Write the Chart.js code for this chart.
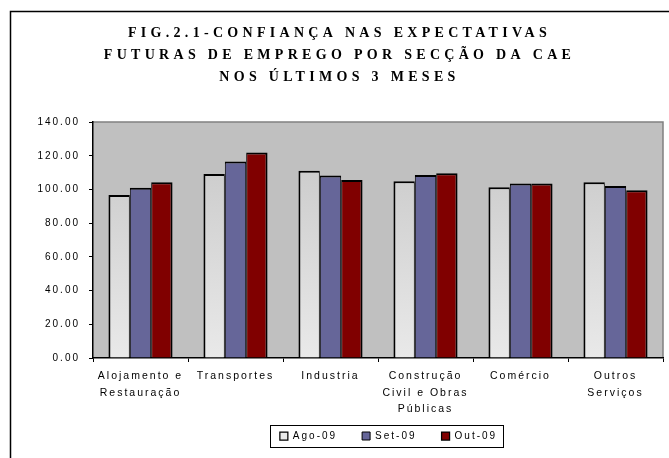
<!DOCTYPE html>
<html>
<head>
<meta charset="utf-8">
<script src="https://cdn.jsdelivr.net/npm/chart.js@4/dist/chart.umd.min.js"></script>
<style>
  html, body { margin: 0; padding: 0; background: #fff; }
  #wrap { width: 669px; height: 458px; position: relative; }
</style>
</head>
<body>
<div id="wrap"><canvas id="c" width="669" height="458"></canvas></div>
<script>
// ---- data ----
const categories = [
  ["Alojamento e", "Restauração"],
  "Transportes",
  "Industria",
  ["Construção", "Civil e Obras", "Públicas"],
  "Comércio",
  ["Outros", "Serviços"]
];
const seriesNames = ["Ago-09", "Set-09", "Out-09"];
const ago09 = [96.7, 109.2, 111.2, 104.9, 101.3, 104.3];
const set09 = [101.1, 116.6, 108.3, 108.6, 103.5, 102.1];
const out09 = [104.3, 121.9, 105.7, 109.7, 103.5, 99.5];
const yTicks = [0, 20, 40, 60, 80, 100, 120, 140];
const titleLines = [
  "FIG.2.1-CONFIANÇA NAS EXPECTATIVAS",
  "FUTURAS DE EMPREGO POR SECÇÃO DA CAE",
  "NOS ÚLTIMOS 3 MESES"
];

const SANS = "'Liberation Sans', Arial, sans-serif";
const SERIF = "'Liberation Serif', 'Times New Roman', serif";

function agoFill(ctx) {
  const chart = ctx.chart;
  const a = chart.chartArea;
  if (!a) return '#dcdcdc';
  const g = chart.ctx.createLinearGradient(0, a.top, 0, a.bottom);
  g.addColorStop(0, '#c6c6c6');
  g.addColorStop(1, '#e9e9e9');
  return g;
}

const decor = {
  id: 'decor',
  beforeLayout(chart) {
    chart.ctx.letterSpacing = '2px';
    const lg = chart.legend;
    if (lg && !lg._fitWrapped) {
      const of = lg.fit.bind(lg);
      lg.fit = function () { of(); this.height = 34; };
      lg.draw = function () { if (this.options.display) this._draw(); };
      lg._fitWrapped = true;
    }
  },
  afterLayout(chart) {
    const lg = chart.legend;
    if (lg) {
      const dx = 57, dy = -14;
      lg.left += dx; lg.right += dx;
      lg.top += dy; lg.bottom += dy;
    }
    const tb = chart.titleBlock;
    if (tb) { tb.left += 8; tb.right += 8; }
  },
  beforeDraw(chart) {
    const ctx = chart.ctx;
    ctx.letterSpacing = '2px';
    const tb = chart.titleBlock;
    if (tb && !tb._wrapped) {
      const orig = tb.draw.bind(tb);
      tb.draw = function () {
        const c = this.ctx;
        c.save();
        c.letterSpacing = '4.3px';
        orig();
        c.restore();
      };
      tb._wrapped = true;
    }
    const a = chart.chartArea;
    ctx.save();
    // outer frame
    ctx.strokeStyle = '#000';
    ctx.lineWidth = 1.5;
    ctx.beginPath();
    ctx.moveTo(10.5, 458);
    ctx.lineTo(10.5, 11.5);
    ctx.lineTo(669, 11.5);
    ctx.stroke();
    // plot background
    ctx.fillStyle = '#c0c0c0';
    ctx.fillRect(a.left, a.top, a.right - a.left, a.bottom - a.top);
    ctx.strokeStyle = '#808080';
    ctx.lineWidth = 1.5;
    ctx.beginPath();
    ctx.moveTo(a.left, a.top);
    ctx.lineTo(a.right, a.top);
    ctx.lineTo(a.right, a.bottom);
    ctx.stroke();
    ctx.restore();
  },
  afterDraw(chart) {
    const lg = chart.legend;
    if (!lg || !lg.legendHitBoxes || !lg.legendHitBoxes.length) return;
    const hb = lg.legendHitBoxes;
    let l = Infinity, r = -Infinity, t = Infinity, b = -Infinity;
    hb.forEach(h => {
      l = Math.min(l, h.left); r = Math.max(r, h.left + h.width);
      t = Math.min(t, h.top); b = Math.max(b, h.top + h.height);
    });
    const ctx = chart.ctx;
    ctx.save();
    ctx.strokeStyle = '#000';
    ctx.lineWidth = 1;
    ctx.strokeRect(Math.round(l - 10) + 0.5, Math.round(t - 6) + 0.5, Math.round(r - l + 16), Math.round(b - t + 12));
    ctx.restore();
  }
};

const chart = new Chart(document.getElementById('c'), {
  type: 'bar',
  data: {
    labels: categories,
    datasets: [
      { label: seriesNames[0], data: ago09, backgroundColor: agoFill, borderColor: '#000',
        borderWidth: { top: 2, left: 2, right: 1, bottom: 0 }, borderSkipped: false },
      { label: seriesNames[1], data: set09, backgroundColor: '#666699', borderColor: '#000',
        borderWidth: { top: 2, left: 1, right: 1, bottom: 0 }, borderSkipped: false },
      { label: seriesNames[2], data: out09, backgroundColor: '#800000', borderColor: '#000',
        borderWidth: { top: 2, left: 1, right: 2, bottom: 0 }, borderSkipped: false }
    ]
  },
  options: {
    responsive: false,
    animation: false,
    devicePixelRatio: 1,
    layout: { padding: { left: 0, right: 6, top: 0, bottom: 4 } },
    datasets: { bar: { categoryPercentage: 0.675, barPercentage: 1.0 } },
    scales: {
      x: {
        grid: { display: true, drawOnChartArea: false, drawTicks: true, tickLength: 4, color: '#000', offset: true },
        border: { display: true, color: '#000', width: 1.5 },
        ticks: {
          maxRotation: 0, minRotation: 0, autoSkip: false, padding: 6, color: '#000',
          font: { family: SANS, size: 10.5, lineHeight: 1.58 }
        },
        afterFit(s) { s.height = 62; }
      },
      y: {
        min: 0, max: 140,
        afterBuildTicks(s) { s.ticks = yTicks.map(v => ({ value: v })); },
        grid: { display: true, drawOnChartArea: false, drawTicks: true, tickLength: 4, color: '#000' },
        border: { display: true, color: '#000', width: 1.5 },
        ticks: {
          padding: 9, color: '#000',
          font: { family: SANS, size: 10 },
          callback: v => Number(v).toFixed(2)
        },
        afterFit(s) { s.width = 93; }
      }
    },
    plugins: {
      title: {
        display: true,
        text: titleLines,
        color: '#000',
        font: { family: SERIF, size: 14, weight: 'bold', lineHeight: 1.55 },
        padding: { top: 23, bottom: 34 }
      },
      legend: {
        display: true,
        position: 'bottom',
        labels: {
          color: '#000',
          boxWidth: 8, boxHeight: 8,
          padding: 25,
          font: { family: SANS, size: 10 }
        }
      },
      tooltip: { enabled: false }
    }
  },
  plugins: [decor]
});
</script>
</body>
</html>
